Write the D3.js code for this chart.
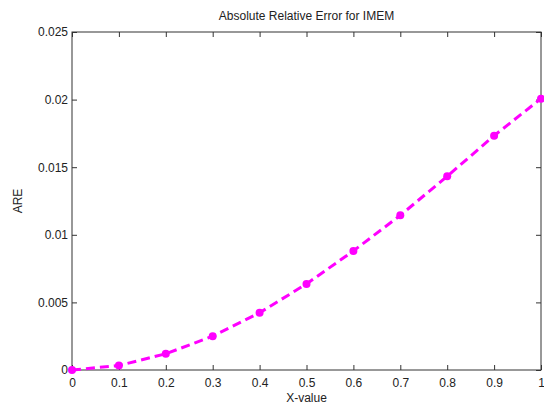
<!DOCTYPE html>
<html>
<head>
<meta charset="utf-8">
<script src="https://cdn.jsdelivr.net/npm/d3@7"></script>
<style>
  body { margin: 0; background: #fff; }
  svg { display: block; font-family: Arial, "Liberation Sans", sans-serif; }
</style>
</head>
<body>
<svg width="544" height="406"></svg>
<script>
// data
const xValues = [0, 0.1, 0.2, 0.3, 0.4, 0.5, 0.6, 0.7, 0.8, 0.9, 1];
const areValues = [0, 0.00033, 0.0012, 0.0025, 0.00423, 0.00637, 0.00881, 0.01144, 0.01433, 0.01733, 0.02007];
const xTicks = [0, 0.1, 0.2, 0.3, 0.4, 0.5, 0.6, 0.7, 0.8, 0.9, 1];
const yTicks = [0, 0.005, 0.01, 0.015, 0.02, 0.025];

const svg = d3.select('svg');
const plotL = 72, plotR = 541, plotT = 32, plotB = 370;
const axisColor = '#333';

const x = d3.scaleLinear().domain([0, 1]).range([plotL, plotR]);
const y = d3.scaleLinear().domain([0, 0.025]).range([plotB, plotT]);

// box
svg.append('rect')
    .attr('x', plotL).attr('y', plotT)
    .attr('width', plotR - plotL).attr('height', plotB - plotT)
    .attr('fill', 'none').attr('stroke', axisColor).attr('stroke-width', 1);

// ticks pointing inward, on all four sides
const tickLen = 5;
const xAxisB = svg.append('g').attr('transform', `translate(0,${plotB})`)
    .call(d3.axisBottom(x).tickValues(xTicks).tickSizeInner(-tickLen).tickSizeOuter(0).tickPadding(8)
        .tickFormat(d => d3.format('~g')(d)));
const xAxisT = svg.append('g').attr('transform', `translate(0,${plotT})`)
    .call(d3.axisTop(x).tickValues(xTicks).tickSizeInner(-tickLen).tickSizeOuter(0).tickFormat(''));
const yAxisL = svg.append('g').attr('transform', `translate(${plotL},0)`)
    .call(d3.axisLeft(y).tickValues(yTicks).tickSizeInner(-tickLen).tickSizeOuter(0).tickPadding(4)
        .tickFormat(d => d3.format('~g')(d)));
const yAxisR = svg.append('g').attr('transform', `translate(${plotR},0)`)
    .call(d3.axisRight(y).tickValues(yTicks).tickSizeInner(-tickLen).tickSizeOuter(0).tickFormat(''));

[xAxisB, xAxisT, yAxisL, yAxisR].forEach(g => {
    g.select('.domain').remove();
    g.selectAll('line').attr('stroke', axisColor);
    g.selectAll('text').attr('fill', '#222').style('font-size', '12px')
        .style('font-family', 'Arial, "Liberation Sans", sans-serif');
});

// data line
const pts = xValues.map((v, i) => [v, areValues[i]]);
const line = d3.line().x(d => x(d[0])).y(d => y(d[1]));
svg.append('path')
    .datum(pts)
    .attr('d', line)
    .attr('fill', 'none')
    .attr('stroke', '#ff00ff')
    .attr('stroke-width', 3)
    .attr('stroke-dasharray', '9,5');

// markers
svg.selectAll('.mk')
    .data(pts)
    .enter()
    .append('circle')
    .classed('mk', true)
    .attr('cx', d => x(d[0]))
    .attr('cy', d => y(d[1]))
    .attr('r', 4)
    .attr('fill', '#ff00ff');

// labels
svg.append('text')
    .attr('x', (plotL + plotR) / 2).attr('y', 20)
    .attr('text-anchor', 'middle')
    .style('font-size', '12px').attr('fill', '#222')
    .text('Absolute Relative Error for IMEM');

svg.append('text')
    .attr('x', (plotL + plotR) / 2).attr('y', 402)
    .attr('text-anchor', 'middle')
    .style('font-size', '12px').attr('fill', '#222')
    .text('X-value');

svg.append('text')
    .attr('transform', `translate(22,${(plotT + plotB) / 2}) rotate(-90)`)
    .attr('text-anchor', 'middle')
    .style('font-size', '12px').attr('fill', '#222')
    .text('ARE');
</script>
</body>
</html>
